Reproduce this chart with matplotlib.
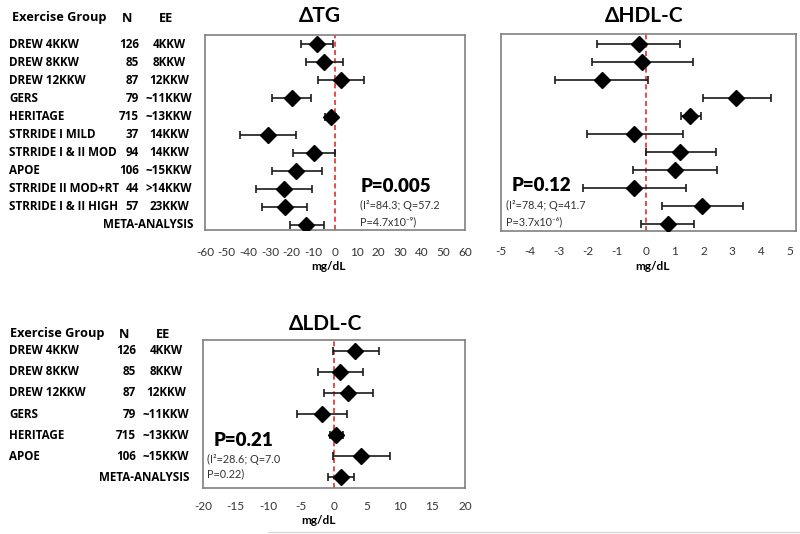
import matplotlib
matplotlib.use("Agg")
import matplotlib.pyplot as plt
from matplotlib.transforms import blended_transform_factory

plt.rcParams['font.family'] = ['Lato', 'DejaVu Sans']

W, H = 800, 534

# ---- data ----
tg_groups = ["DREW 4KKW", "DREW 8KKW", "DREW 12KKW", "GERS", "HERITAGE",
             "STRRIDE I MILD", "STRRIDE I & II MOD", "APOE",
             "STRRIDE II MOD+RT", "STRRIDE I & II HIGH", "META-ANALYSIS"]
tg_n = ["126", "85", "87", "79", "715", "37", "94", "106", "44", "57", ""]
tg_ee = ["4KKW", "8KKW", "12KKW", "~11KKW", "~13KKW", "14KKW", "14KKW",
         "~15KKW", ">14KKW", "23KKW", ""]

tg_mean = [-8.5, -5.1, 2.8, -20.0, -2.0, -31.1, -9.7, -17.8, -23.7, -23.2, -13.2]
tg_lo = [-15.8, -13.5, -8.0, -29.1, -4.8, -43.8, -19.2, -29.1, -36.6, -33.8, -20.8]
tg_hi = [-1.1, 3.5, 13.4, -10.9, 0.3, -18.0, 0.2, -6.2, -10.5, -12.8, -5.2]

hdl_mean = [-0.24, -0.12, -1.51, 3.14, 1.55, -0.39, 1.20, 1.00, -0.39, 1.95, 0.76]
hdl_lo = [-1.68, -1.85, -3.12, 1.99, 1.21, -2.03, 0.01, -0.44, -2.18, 0.57, -0.16]
hdl_hi = [1.18, 1.63, 0.09, 4.35, 1.92, 1.28, 2.42, 2.47, 1.40, 3.36, 1.69]

ldl_groups = ["DREW 4KKW", "DREW 8KKW", "DREW 12KKW", "GERS", "HERITAGE",
              "APOE", "META-ANALYSIS"]
ldl_n = ["126", "85", "87", "79", "715", "106", ""]
ldl_ee = ["4KKW", "8KKW", "12KKW", "~11KKW", "~13KKW", "~15KKW", ""]

ldl_mean = [3.19, 0.98, 2.16, -1.8, 0.37, 4.17, 1.14]
ldl_lo = [-0.15, -2.4, -1.54, -5.65, -0.66, -0.1, -0.87]
ldl_hi = [6.8, 4.38, 5.97, 1.91, 1.39, 8.6, 3.09]

ROWFONT = ['Open Sans', 'DejaVu Sans']


def fx(px):
    return px / W


def fy(py):
    return 1 - py / H


fig = plt.figure(figsize=(W / 100, H / 100), dpi=100)


def forest(box, mean, lo, hi, xlim, ticks, ylim, pad):
    l, t, r, b = box
    ax = fig.add_axes([fx(l), fy(b), (r - l) / W, (b - t) / H])
    ys = list(range(len(mean)))
    xerr = [[m - a for m, a in zip(mean, lo)], [c - m for m, c in zip(mean, hi)]]
    ax.errorbar(mean, ys, xerr=xerr, fmt='D', color='black', ecolor='#1a1a1a',
                elinewidth=1.2, capsize=3, capthick=1.2, markersize=8, zorder=3)
    ax.axvline(0, color='#e0302a', lw=1.2, ls=(0, (3, 2)), zorder=2)
    ax.set_xlim(*xlim)
    ax.set_ylim(*ylim)
    ax.set_xticks(ticks)
    ax.set_xticklabels([str(v) for v in ticks])
    ax.set_yticks([])
    ax.tick_params(axis='x', length=0, pad=pad, labelsize=8.5, labelcolor='#333333')
    for s in ax.spines.values():
        s.set_color('#808080')
        s.set_linewidth(1.2)
    return ax


def labels(ax, groups, ns, ees, x_name, x_meta, x_n, x_ee):
    tr = blended_transform_factory(fig.transFigure, ax.transData)
    kw = dict(transform=tr, va='center', fontsize=8.4, fontweight='bold', family=ROWFONT)
    for i, (g, n, e) in enumerate(zip(groups, ns, ees)):
        if g == "META-ANALYSIS":
            fig.text(fx(x_meta), i, g, ha='right', **kw)
        else:
            fig.text(fx(x_name), i, g, ha='left', **kw)
        fig.text(fx(x_n), i, n, ha='right', **kw)
        fig.text(fx(x_ee), i, e, ha='center', **kw)


hkw = dict(ha='center', va='center', fontsize=9.2, fontweight='bold', family=ROWFONT)

# ---- TG ----
ax1 = forest((205, 35, 465, 230), tg_mean, tg_lo, tg_hi, (-60, 60),
             list(range(-60, 61, 10)), (10.28, -0.515), 12)
labels(ax1, tg_groups, tg_n, tg_ee, 9, 193, 139, 169)
fig.text(fx(59), fy(18), "Exercise Group", **hkw)
fig.text(fx(127), fy(18), "N", **hkw)
fig.text(fx(166), fy(18), "EE", **hkw)
fig.text(fx(320), fy(16), "ΔTG", ha='center', va='center', fontsize=15, fontweight='bold')
fig.text(fx(328), fy(267), "mg/dL", ha='center', va='center', fontsize=8.5, fontweight='bold')
fig.text(fx(396), fy(186), "P=0.005", ha='center', va='center', fontsize=13.5, fontweight='heavy')
fig.text(fx(360), fy(205.5), "(I²=84.3; Q=57.2", ha='left', va='center', fontsize=7.8, color='#333333')
fig.text(fx(360), fy(221.5), "P=4.7x10⁻⁹)", ha='left', va='center', fontsize=7.8, color='#333333')

# ---- HDL-C ----
ax2 = forest((501, 34, 796, 231), hdl_mean, hdl_lo, hdl_hi, (-5, 5.2),
             list(range(-5, 6)), (10.39, -0.54), 11)
fig.text(fx(644), fy(16), "ΔHDL-C", ha='center', va='center', fontsize=15, fontweight='bold')
fig.text(fx(653), fy(267), "mg/dL", ha='center', va='center', fontsize=8.5, fontweight='bold')
fig.text(fx(512), fy(185), "P=0.12", ha='left', va='center', fontsize=13.5, fontweight='heavy')
fig.text(fx(506), fy(205), "(I²=78.4; Q=41.7", ha='left', va='center', fontsize=7.8, color='#333333')
fig.text(fx(506), fy(221.5), "P=3.7x10⁻⁶)", ha='left', va='center', fontsize=7.8, color='#333333')

# ---- LDL-C ----
ax3 = forest((203, 340, 465, 488), ldl_mean, ldl_lo, ldl_hi, (-20, 20),
             list(range(-20, 21, 5)), (6.52, -0.52), 9)
labels(ax3, ldl_groups, ldl_n, ldl_ee, 9, 190, 136, 166)
fig.text(fx(57), fy(334), "Exercise Group", **hkw)
fig.text(fx(124), fy(334), "N", **hkw)
fig.text(fx(163), fy(334), "EE", **hkw)
fig.text(fx(326), fy(324), "ΔLDL-C", ha='center', va='center', fontsize=15, fontweight='bold')
fig.text(fx(319), fy(520), "mg/dL", ha='center', va='center', fontsize=8.5, fontweight='bold')
fig.text(fx(243), fy(441), "P=0.21", ha='center', va='center', fontsize=13.5, fontweight='heavy')
fig.text(fx(207), fy(459), "(I²=28.6; Q=7.0", ha='left', va='center', fontsize=7.8, color='#333333')
fig.text(fx(207), fy(474), "P=0.22)", ha='left', va='center', fontsize=7.8, color='#333333')

# faint rule at the bottom edge
fig.add_artist(plt.Line2D([fx(268), 1], [fy(532), fy(532)], color='#d9d9d9', lw=1))

fig.savefig("out.png", dpi=100)
plt.close(fig)
